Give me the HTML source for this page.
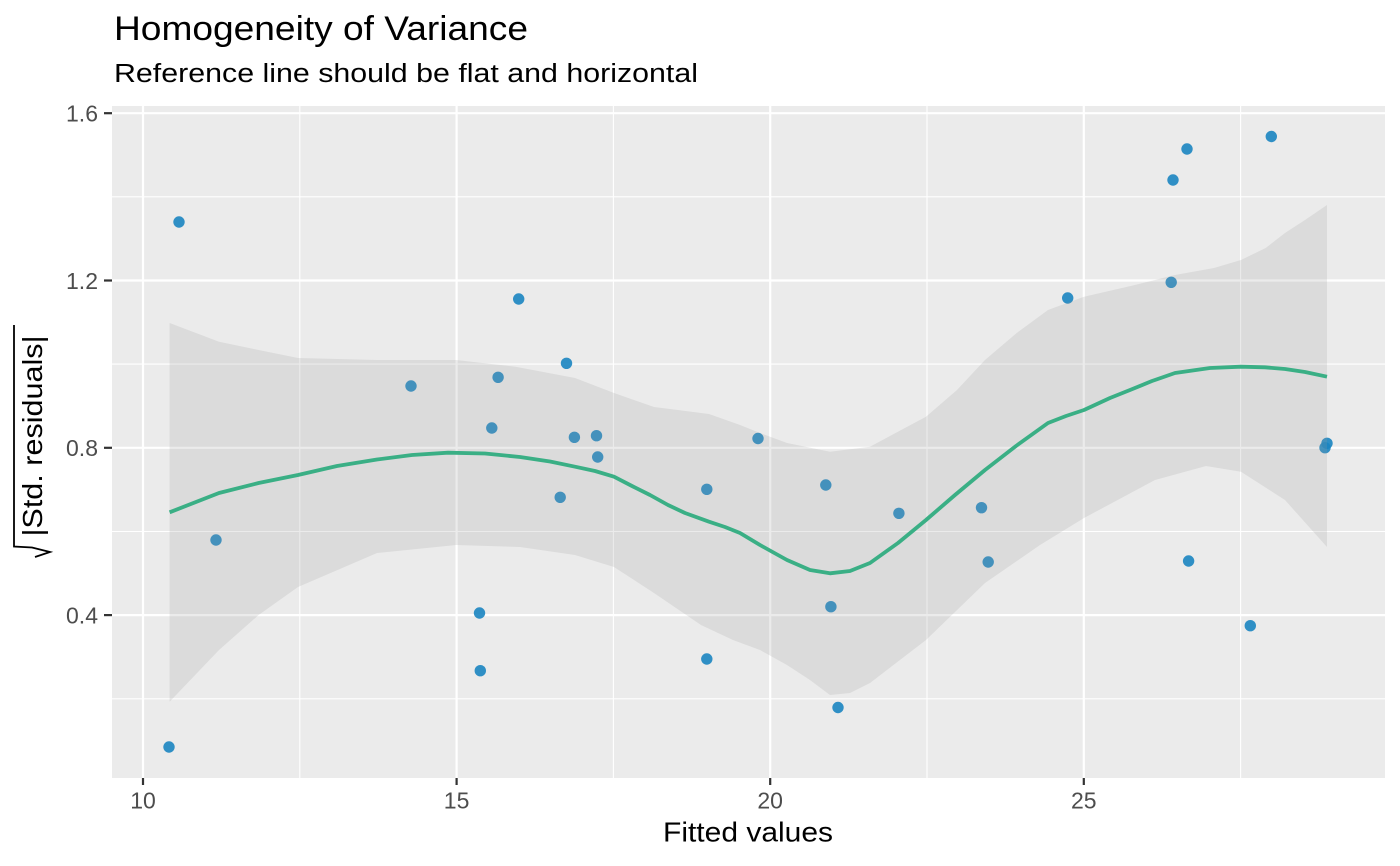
<!DOCTYPE html>
<html>
<head>
<meta charset="utf-8">
<style>
  html, body { margin: 0; padding: 0; background: #ffffff; }
  svg { display: block; }
  text { font-family: "Liberation Sans", "DejaVu Sans", sans-serif; }
</style>
</head>
<body>
<svg width="1400" height="866" viewBox="0 0 1400 866" xmlns="http://www.w3.org/2000/svg">
  <!-- Titles -->
  <text x="114" y="40" font-size="34" fill="#000" textLength="414" lengthAdjust="spacingAndGlyphs">Homogeneity of Variance</text>
  <text x="114" y="82" font-size="25.5" fill="#000" textLength="584" lengthAdjust="spacingAndGlyphs">Reference line should be flat and horizontal</text>

  <!-- Panel -->
  <rect x="112" y="106" width="1273" height="672" fill="#EBEBEB"/>

  <!-- Minor grid -->
  <g stroke="#FFFFFF" stroke-width="1.1">
    <line x1="112" x2="1385" y1="698.8" y2="698.8"/>
    <line x1="112" x2="1385" y1="531.5" y2="531.5"/>
    <line x1="112" x2="1385" y1="364.1" y2="364.1"/>
    <line x1="112" x2="1385" y1="196.8" y2="196.8"/>
    <line y1="106" y2="778" x1="299.8" x2="299.8"/>
    <line y1="106" y2="778" x1="613.4" x2="613.4"/>
    <line y1="106" y2="778" x1="927.0" x2="927.0"/>
    <line y1="106" y2="778" x1="1240.6" x2="1240.6"/>
  </g>
  <!-- Major grid -->
  <g stroke="#FFFFFF" stroke-width="2.2">
    <line x1="112" x2="1385" y1="615.1" y2="615.1"/>
    <line x1="112" x2="1385" y1="447.8" y2="447.8"/>
    <line x1="112" x2="1385" y1="280.5" y2="280.5"/>
    <line x1="112" x2="1385" y1="113.2" y2="113.2"/>
    <line y1="106" y2="778" x1="143" x2="143"/>
    <line y1="106" y2="778" x1="456.6" x2="456.6"/>
    <line y1="106" y2="778" x1="770.2" x2="770.2"/>
    <line y1="106" y2="778" x1="1083.8" x2="1083.8"/>
  </g>

  <!-- Points -->
  <g fill="#1b85c1" fill-opacity="0.9">
    <circle cx="169" cy="747" r="5.7"/>
    <circle cx="179" cy="222" r="5.7"/>
    <circle cx="216" cy="540" r="5.7"/>
    <circle cx="411" cy="386" r="5.7"/>
    <circle cx="479.5" cy="613" r="5.7"/>
    <circle cx="480.3" cy="670.7" r="5.7"/>
    <circle cx="491.8" cy="428" r="5.7"/>
    <circle cx="498.1" cy="377.3" r="5.7"/>
    <circle cx="518.7" cy="299" r="5.7"/>
    <circle cx="560.2" cy="497.3" r="5.7"/>
    <circle cx="566.5" cy="363.3" r="5.7"/>
    <circle cx="574.4" cy="437.3" r="5.7"/>
    <circle cx="596.5" cy="435.7" r="5.7"/>
    <circle cx="597.7" cy="457" r="5.7"/>
    <circle cx="706.8" cy="489.3" r="5.7"/>
    <circle cx="706.8" cy="659" r="5.7"/>
    <circle cx="758" cy="438.5" r="5.7"/>
    <circle cx="825.8" cy="485" r="5.7"/>
    <circle cx="830.9" cy="606.7" r="5.7"/>
    <circle cx="838" cy="707.5" r="5.7"/>
    <circle cx="898.9" cy="513.3" r="5.7"/>
    <circle cx="981.5" cy="507.7" r="5.7"/>
    <circle cx="988.2" cy="562" r="5.7"/>
    <circle cx="1067.7" cy="298" r="5.7"/>
    <circle cx="1171.2" cy="282.3" r="5.7"/>
    <circle cx="1173" cy="180" r="5.7"/>
    <circle cx="1187" cy="149" r="5.7"/>
    <circle cx="1188.6" cy="561" r="5.7"/>
    <circle cx="1250.3" cy="625.7" r="5.7"/>
    <circle cx="1271.3" cy="136.5" r="5.7"/>
    <circle cx="1325" cy="447.7" r="5.7"/>
    <circle cx="1327" cy="443.3" r="5.7"/>
  </g>

  <!-- Confidence ribbon -->
  <polygon fill="#999999" fill-opacity="0.2" points="
    169.6,323 219,341.7 258.6,350 298,358 377,360 456,360 515.5,366.7 575,378 614,393 654,407 709,414 740,425 760,433 787,443 830,451.7 870,446.7 926,416.7 957,390 985,360 1016.7,333 1048,310 1084,296.7 1135,285 1175,275 1214,268 1241,260 1265.7,248 1285,233 1305,220 1327,205
    1327,547 1285,500 1241,471.7 1206,466 1155,480 1084,518 1040,545 985,583 926,640 870,683 850,693 830,695 810,680 787,665 760,650 733,640 701,625 654,593 614,567 575,555 520,547 456,545 377,553 298,587 258.6,615 219,650 169.6,701.7"/>

  <!-- Smooth line -->
  <polyline fill="none" stroke="#3aaf85" stroke-width="3.8" stroke-linejoin="round" stroke-linecap="butt" points="
    169.6,512.3 219,493 258.6,483 298,475 337,466 377,459.5 412,455 448,452.7 485,453.5 520,457 550,461.5 575,466.7 595,471 614,476.7 632,486 650,495 668,505 685,513 709,521.7 725,527 740,533 760,545 787,560 810,570 830,573.3 850,571 870,563 898,543 926,520 955,495 985,470 1016,446 1048,423 1066,416 1084,410 1110,398 1130,390 1152,381 1175,373 1210,368 1241,366.7 1265,367.3 1285,369 1305,372 1327,376.7"/>

  <!-- Y axis ticks & labels -->
  <g stroke="#333333" stroke-width="2.2">
    <line x1="104" x2="112" y1="615.1" y2="615.1"/>
    <line x1="104" x2="112" y1="447.8" y2="447.8"/>
    <line x1="104" x2="112" y1="280.5" y2="280.5"/>
    <line x1="104" x2="112" y1="113.2" y2="113.2"/>
  </g>
  <g font-size="23" fill="#4D4D4D" text-anchor="end">
    <text x="98" y="623.5">0.4</text>
    <text x="98" y="456.2">0.8</text>
    <text x="98" y="288.9">1.2</text>
    <text x="98" y="121.6">1.6</text>
  </g>

  <!-- X axis ticks & labels -->
  <g stroke="#333333" stroke-width="2.2">
    <line y1="778" y2="785" x1="143" x2="143"/>
    <line y1="778" y2="785" x1="456.6" x2="456.6"/>
    <line y1="778" y2="785" x1="770.2" x2="770.2"/>
    <line y1="778" y2="785" x1="1083.8" x2="1083.8"/>
  </g>
  <g font-size="23" fill="#4D4D4D" text-anchor="middle">
    <text x="143" y="808.5">10</text>
    <text x="456.6" y="808.5">15</text>
    <text x="770.2" y="808.5">20</text>
    <text x="1083.8" y="808.5">25</text>
  </g>

  <!-- Axis titles -->
  <text x="748" y="841.7" font-size="28" fill="#000" text-anchor="middle" textLength="170" lengthAdjust="spacingAndGlyphs">Fitted values</text>

  <text transform="translate(42,436) rotate(-90)" x="0" y="0" font-size="28" fill="#000" text-anchor="middle" textLength="201" lengthAdjust="spacingAndGlyphs">|Std. residuals|</text>
  <polyline fill="none" stroke="#000" stroke-width="1.8" stroke-linejoin="miter" points="14,325 14,546.5 32,547.5 50,552 35,557"/>
</svg>
</body>
</html>
